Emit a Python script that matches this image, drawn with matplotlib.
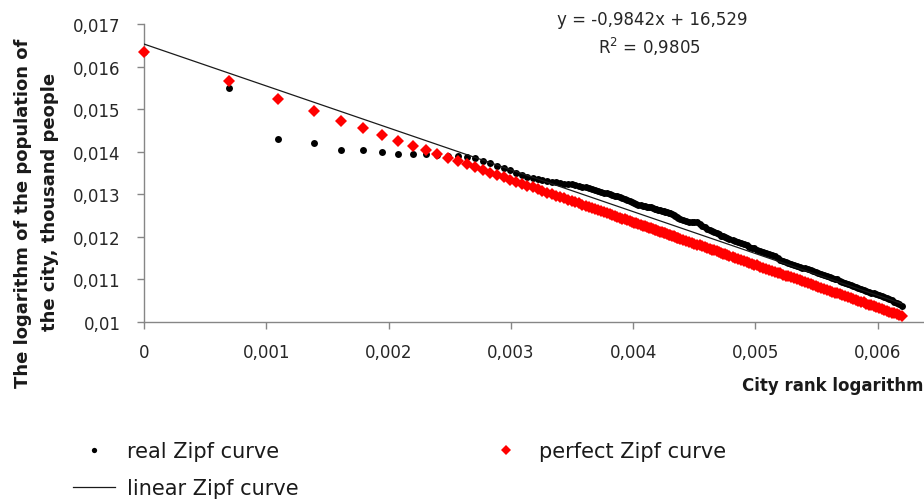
import numpy as np
import matplotlib
matplotlib.use("Agg")
import matplotlib.pyplot as plt
from matplotlib.lines import Line2D

# city ranks (every rank up to 80, then a subset where dots merge into a band)
ranks = list(range(1, 81)) + [
    82, 84, 86, 88, 90, 92, 94, 96, 98, 100, 102, 104, 106, 108, 110, 112, 114, 116, 118, 120,
    123, 126, 129, 132, 135, 138, 141, 144, 147, 150,
    154, 158, 162, 166, 170, 174, 178, 182, 186, 190, 194, 198,
    203, 208, 213, 218, 223, 228, 233, 238, 243, 248,
    254, 260, 266, 272, 278, 284, 290, 296, 302,
    309, 316, 323, 330, 337, 344, 351,
    359, 367, 375, 383, 391, 399,
    408, 417, 426, 435, 444, 453, 462, 471, 480,
    490,
]

# logarithm of population, in units of 0.001
real_zipf = [
    16.34, 15.49, 14.29, 14.20, 14.04, 14.04, 13.99, 13.95, 13.95, 13.94,
    13.93, 13.91, 13.89, 13.87, 13.86, 13.78, 13.74, 13.67, 13.62, 13.57,
    13.50, 13.45, 13.41, 13.38, 13.35, 13.33, 13.31, 13.30, 13.28, 13.27,
    13.25, 13.24, 13.23, 13.21, 13.20, 13.18, 13.16, 13.14, 13.12, 13.10,
    13.08, 13.06, 13.04, 13.02, 13.00, 12.98, 12.97, 12.95, 12.93, 12.91,
    12.89, 12.86, 12.84, 12.81, 12.80, 12.78, 12.76, 12.75, 12.73, 12.72,
    12.71, 12.70, 12.69, 12.68, 12.66, 12.65, 12.64, 12.63, 12.61, 12.60,
    12.59, 12.58, 12.56, 12.55, 12.53, 12.51, 12.49, 12.47, 12.45, 12.43,
    12.40, 12.37, 12.36, 12.36, 12.36, 12.34, 12.30, 12.26, 12.22, 12.19,
    12.17, 12.14, 12.11, 12.09, 12.06, 12.03, 12.01, 11.99, 11.97, 11.95,
    11.92, 11.90, 11.87, 11.85, 11.83, 11.80, 11.77, 11.75, 11.73, 11.70,
    11.67, 11.64, 11.62, 11.59, 11.57, 11.54, 11.50, 11.46, 11.43, 11.41,
    11.39, 11.37,
    11.34, 11.32, 11.30, 11.27, 11.26, 11.24, 11.22, 11.20, 11.18, 11.16,
    11.13, 11.11, 11.09, 11.06, 11.04, 11.02, 11.00, 10.97, 10.95,
    10.92, 10.89, 10.86, 10.84, 10.82, 10.79, 10.77,
    10.75, 10.72, 10.70, 10.68, 10.67, 10.65,
    10.63, 10.61, 10.59, 10.57, 10.54, 10.51, 10.48, 10.45, 10.42,
    10.38,
]

perfect_zipf = [
    16.34, 15.65, 15.24, 14.95, 14.73, 14.55, 14.39, 14.26, 14.14, 14.04,
    13.94, 13.86, 13.78, 13.70, 13.63, 13.57, 13.51, 13.45, 13.40, 13.34,
    13.30, 13.25, 13.20, 13.16, 13.12, 13.08, 13.04, 13.01, 12.97, 12.94,
    12.91, 12.87, 12.84, 12.81, 12.79, 12.76, 12.73, 12.70, 12.68, 12.65,
    12.63, 12.60, 12.58, 12.56, 12.53, 12.51, 12.49, 12.47, 12.45, 12.43,
    12.41, 12.39, 12.37, 12.35, 12.33, 12.32, 12.30, 12.28, 12.26, 12.25,
    12.23, 12.21, 12.20, 12.18, 12.17, 12.15, 12.14, 12.12, 12.11, 12.09,
    12.08, 12.06, 12.05, 12.04, 12.02, 12.01, 12.00, 11.98, 11.97, 11.96,
    11.93, 11.91, 11.89, 11.86, 11.84, 11.82, 11.80, 11.78, 11.76, 11.73,
    11.72, 11.70, 11.68, 11.66, 11.64, 11.62, 11.60, 11.59, 11.57, 11.55,
    11.53, 11.50, 11.48, 11.46, 11.43, 11.41, 11.39, 11.37, 11.35, 11.33,
    11.30, 11.28, 11.25, 11.23, 11.20, 11.18, 11.16, 11.14, 11.11, 11.09,
    11.07, 11.05,
    11.03, 11.00, 10.98, 10.96, 10.93, 10.91, 10.89, 10.87, 10.85, 10.83,
    10.80, 10.78, 10.76, 10.73, 10.71, 10.69, 10.67, 10.65, 10.63,
    10.61, 10.58, 10.56, 10.54, 10.52, 10.50, 10.48,
    10.46, 10.43, 10.41, 10.39, 10.37, 10.35,
    10.33, 10.31, 10.29, 10.26, 10.24, 10.22, 10.20, 10.19, 10.17,
    10.15,
]

trend_slope = -0.9842
trend_intercept = 16.529

x_ticks = [0, 0.001, 0.002, 0.003, 0.004, 0.005, 0.006]
x_tick_labels = ["0", "0,001", "0,002", "0,003", "0,004", "0,005", "0,006"]
y_ticks = [0.010, 0.011, 0.012, 0.013, 0.014, 0.015, 0.016, 0.017]
y_tick_labels = ["0,01", "0,011", "0,012", "0,013", "0,014", "0,015", "0,016", "0,017"]

assert len(ranks) == len(real_zipf) == len(perfect_zipf)

x = np.log(ranks) / 1000
y_real = np.array(real_zipf) / 1000
y_perfect = np.array(perfect_zipf) / 1000
x_line = np.array([0, x.max()])
y_line = (trend_intercept + trend_slope * x_line * 1000) / 1000

fig = plt.figure(figsize=(9.24, 5.02), dpi=100)
ax = fig.add_axes([144 / 924, (502 - 323) / 502, 1 - 144 / 924, (323 - 25) / 502])

ax.plot(x, y_real, "o", color="black", ms=5.0, mew=0, clip_on=False, zorder=3)
ax.plot(x, y_perfect, "D", color="#ff0000", ms=6.1, mew=0, clip_on=False, zorder=4)
ax.plot(x_line, y_line, color="#1a1a1a", lw=0.9, zorder=5)

ax.set_xlim(0, 0.006378)
ax.set_ylim(0.010, 0.017)
ax.set_xticks(x_ticks)
ax.set_xticklabels(x_tick_labels)
ax.set_yticks(y_ticks)
ax.set_yticklabels(y_tick_labels)

for side in ["top", "right"]:
    ax.spines[side].set_visible(False)
for side in ["left", "bottom"]:
    ax.spines[side].set_color("#868686")
    ax.spines[side].set_linewidth(1.0)
ax.tick_params(axis="both", direction="out", length=5, width=1.0, color="#868686",
               labelsize=12, labelcolor="#262626")
ax.tick_params(axis="y", pad=12)
ax.tick_params(axis="x", pad=10)

# axis titles
fig.text(742 / 924, 1 - 386 / 502, "City rank logarithm", fontsize=12, fontweight="bold",
         ha="left", va="center", color="#1a1a1a")
fig.text(23 / 924, 1 - 213 / 502, "The logarithm of the population of", fontsize=13,
         fontweight="bold", rotation=90, ha="center", va="center", color="#1a1a1a")
fig.text(50 / 924, 1 - 202 / 502, "the city, thousand people", fontsize=13,
         fontweight="bold", rotation=90, ha="center", va="center", color="#1a1a1a")

# trendline equation
fig.text(652 / 924, 1 - 20 / 502, "y = -0,9842x + 16,529", fontsize=12,
         ha="center", va="center", color="#262626")
fig.text(649 / 924, 1 - 47 / 502, "R$^2$ = 0,9805", fontsize=12,
         ha="center", va="center", color="#262626")

handles = [
    Line2D([], [], ls="none", marker="o", color="black", ms=3.8, mew=0),
    Line2D([], [], color="#1a1a1a", lw=0.9),
    Line2D([], [], ls="none", marker="D", color="#ff0000", ms=4.8, mew=0),
]
labels = ["real Zipf curve", "linear Zipf curve", "perfect Zipf curve"]
fig.legend(handles, labels, ncol=2, loc="upper left",
           bbox_to_anchor=(73 / 924, 1 - 442 / 502), frameon=False,
           fontsize=15, handlelength=2.0, handletextpad=0.57,
           columnspacing=9.0, labelspacing=0.84, borderpad=0, borderaxespad=0,
           labelcolor="#1a1a1a")

fig.savefig("out.png", dpi=100)
